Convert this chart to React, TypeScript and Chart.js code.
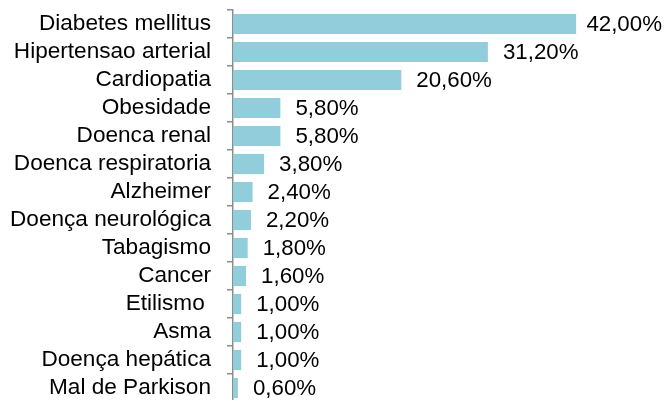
import React, { useEffect, useRef } from "react";
import { Chart, registerables } from "chart.js";

Chart.register(...registerables);

const categories = [
  "Diabetes mellitus",
  "Hipertensao arterial",
  "Cardiopatia",
  "Obesidade",
  "Doenca renal",
  "Doenca respiratoria",
  "Alzheimer",
  "Doença neurológica",
  "Tabagismo",
  "Cancer",
  "Etilismo ",
  "Asma",
  "Doença hepática",
  "Mal de Parkison",
];

const values = [42.0, 31.2, 20.6, 5.8, 5.8, 3.8, 2.4, 2.2, 1.8, 1.6, 1.0, 1.0, 1.0, 0.6];

const FONT_FAMILY = "'Liberation Sans', Arial, sans-serif";
const LABEL_FONT_SIZE = 22.6;
const VALUE_FONT_SIZE = 22.3;
const BAR_COLOR = "#92CDDC";
const AXIS_COLOR = "#8C8C8C";

const fmt = (v: number) => v.toFixed(2).replace(".", ",") + "%";

const valueLabels = {
  id: "valueLabels",
  afterDatasetsDraw(chart: any) {
    const ctx = chart.ctx;
    const meta = chart.getDatasetMeta(0);
    ctx.save();
    ctx.font = `${VALUE_FONT_SIZE}px ${FONT_FAMILY}`;
    ctx.fillStyle = "#000000";
    ctx.textBaseline = "middle";
    ctx.textAlign = "left";
    meta.data.forEach((bar: any, i: number) => {
      const text = fmt(values[i]);
      const w = ctx.measureText(text).width;
      let x = bar.x + 15;
      const maxRight = chart.width - 4;
      if (x + w > maxRight) x = maxRight - w;
      ctx.fillText(text, x, bar.y + 1);
    });
    ctx.restore();
  },
};

export default function App() {
  const canvasRef = useRef<HTMLCanvasElement | null>(null);

  useEffect(() => {
    document.body.style.overflow = "hidden";
    const canvas = canvasRef.current;
    if (!canvas) return;
    const chart = new Chart(canvas, {
      type: "bar",
      data: {
        labels: categories,
        datasets: [
          {
            data: values,
            backgroundColor: BAR_COLOR,
            borderWidth: 0,
            barPercentage: 0.72,
            categoryPercentage: 1,
          },
        ],
      },
      options: {
        indexAxis: "y",
        animation: false,
        responsive: true,
        maintainAspectRatio: false,
        layout: { padding: { top: 10, left: 0, right: 0, bottom: 0 } },
        plugins: {
          legend: { display: false },
          tooltip: { enabled: false },
        },
        scales: {
          x: {
            display: false,
            min: 0,
            max: 53,
          },
          y: {
            afterFit: (scale: any) => {
              scale.width = 233;
              scale.paddingTop = 0;
              scale.paddingBottom = 0;
            },
            grid: {
              offset: true,
              drawOnChartArea: false,
              drawTicks: true,
              tickLength: 6,
              color: AXIS_COLOR,
              lineWidth: 1.5,
            },
            border: {
              display: true,
              color: AXIS_COLOR,
              width: 1.5,
            },
            ticks: {
              padding: 16,
              color: "#000000",
              font: { family: FONT_FAMILY, size: LABEL_FONT_SIZE },
              autoSkip: false,
            },
          },
        },
      },
      plugins: [valueLabels],
    });
    return () => chart.destroy();
  }, []);

  return (
    <div
      style={{
        position: "fixed",
        top: 0,
        left: 0,
        width: "666px",
        height: "402px",
        background: "#ffffff",
      }}
    >
      <canvas ref={canvasRef} />
    </div>
  );
}
